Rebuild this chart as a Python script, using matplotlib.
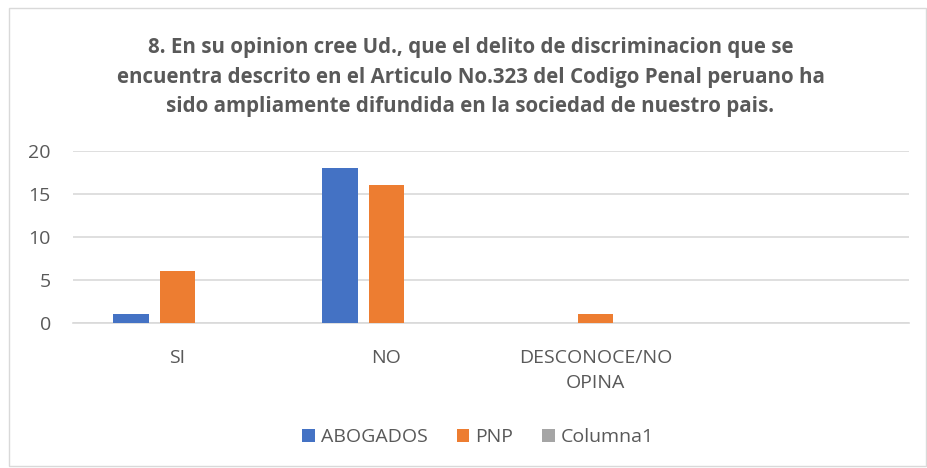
import matplotlib
matplotlib.use("Agg")
import matplotlib.pyplot as plt
import numpy as np
from matplotlib.patches import Rectangle

plt.rcParams['font.family'] = ['Open Sans', 'DejaVu Sans']

categorias = ['SI', 'NO', 'DESCONOCE/NO\nOPINA', '']
abogados = [1, 18, 0, 0]
pnp = [6, 16, 1, 0]
columna1 = [0, 0, 0, 0]
series = ['ABOGADOS', 'PNP', 'Columna1']
colores = ['#4472C4', '#ED7D31', '#A5A5A5']

titulo = ("8. En su opinion cree Ud., que el delito de discriminacion que se\n"
          "encuentra descrito en el Articulo No.323 del Codigo Penal peruano ha\n"
          "sido ampliamente difundida en la sociedad de nuestro pais.")

texto = '#595959'
fig = plt.figure(figsize=(9.28, 4.68), dpi=100)
fig.patches.append(Rectangle((9/928, 2/468), 917/928, 458/468, transform=fig.transFigure,
                             fill=False, edgecolor='#D9D9D9', linewidth=1))

ax = fig.add_axes([73/928, 1 - 322.7/468, 836/928, 172/468])
x = np.arange(len(categorias))
ancho = 0.172
paso = 0.222
for i, (nombre, vals) in enumerate(zip(series, [abogados, pnp, columna1])):
    ax.bar(x + (i - 1) * paso, vals, ancho, color=colores[i], label=nombre, zorder=3)

ax.set_xlim(-0.5, len(categorias) - 0.5)
ax.set_ylim(0, 20)
ax.set_yticks([0, 5, 10, 15, 20])
ax.grid(axis='y', color='#D9D9D9', linewidth=1.2, zorder=0)
for s in ['top', 'right', 'left']:
    ax.spines[s].set_visible(False)
ax.spines['bottom'].set_color('#D9D9D9')
ax.spines['bottom'].set_linewidth(1.2)
ax.set_xticks(x)
ax.set_xticklabels(categorias, linespacing=1.5)
ax.tick_params(axis='both', length=0, colors=texto, labelsize=14)
ax.tick_params(axis='y', pad=16)
ax.tick_params(axis='x', pad=19)

fig.text(0.507, 1 - 77/468, titulo, ha='center', va='center', fontsize=14.8,
         fontweight='bold', color=texto, linespacing=1.55)

fig.legend(loc='center', bbox_to_anchor=(478/928, 1 - 437/468), ncol=3, frameon=False,
           fontsize=14, labelcolor=texto, handlelength=0.65, handleheight=0.65,
           handletextpad=0.3, columnspacing=1.5)

fig.savefig('out.png', dpi=100)
